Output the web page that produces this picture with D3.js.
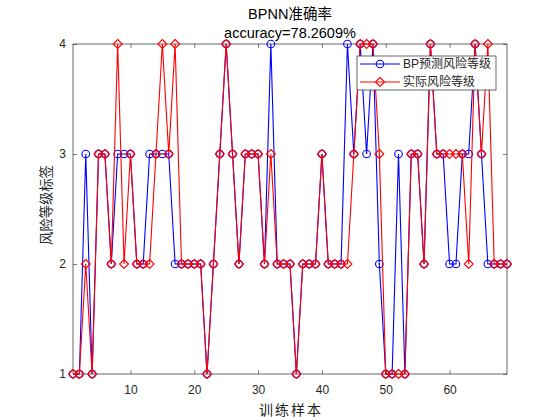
<!DOCTYPE html>
<html>
<head>
<meta charset="utf-8">
<script src="https://cdn.jsdelivr.net/npm/d3@7"></script>
<style>
  body { margin: 0; background: #fff; }
  text { font-family: "Liberation Sans", Arial, "Noto Sans CJK SC", sans-serif; }
</style>
</head>
<body>
<svg id="chart"></svg>
<script>
// Risk levels, one per training sample
const predicted = [1,1,3,1,3,3,2,3,3,3,2,2,3,3,3,3,2,2,2,2,2,1,2,3,4,3,2,3,3,3,2,4,2,2,2,1,2,2,2,3,
                   2,2,2,4,3,4,3,4,2,1,1,3,1,3,3,2,4,3,3,2,2,3,3,4,3,2,2,2,2];
const actual    = [1,1,2,1,3,3,2,4,2,3,2,2,2,3,4,3,4,2,2,2,2,1,2,3,4,3,2,3,3,3,2,3,2,2,2,1,2,2,2,3,
                   2,2,2,2,3,4,4,4,3,1,1,1,1,3,3,2,4,3,3,3,3,3,2,4,3,4,2,2,2];
const xTicks = [10, 20, 30, 40, 50, 60];
const yTicks = [1, 2, 3, 4];
const seriesNames = ["BP预测风险等级", "实际风险等级"];

const width = 560, height = 420;
const margin = {top: 44, bottom: 46, left: 73, right: 53};
const axisColor = "#262626";
const blue = "#0000ff", red = "#ff0000";

const svg = d3.select("#chart")
  .attr("width", width)
  .attr("height", height)
  .style("background", "#fff");

const xScale = d3.scaleLinear()
  .domain([1, predicted.length])
  .range([margin.left, width - margin.right]);

const yScale = d3.scaleLinear()
  .domain([1, 4])
  .range([height - margin.bottom, margin.top]);

// Axes, with inward ticks on all four sides (MATLAB box style)
const tickLen = 4;
svg.append("g")
  .attr("transform", `translate(0,${height - margin.bottom})`)
  .call(d3.axisBottom(xScale).tickValues(xTicks).tickSizeInner(-tickLen).tickSizeOuter(0).tickPadding(11))
  .call(g => g.select(".domain").remove());
svg.append("g")
  .attr("transform", `translate(0,${margin.top})`)
  .call(d3.axisTop(xScale).tickValues(xTicks).tickSizeInner(-tickLen).tickSizeOuter(0).tickFormat(""))
  .call(g => g.select(".domain").remove());
svg.append("g")
  .attr("transform", `translate(${margin.left},0)`)
  .call(d3.axisLeft(yScale).tickValues(yTicks).tickFormat(d3.format("d"))
    .tickSizeInner(-tickLen).tickSizeOuter(0).tickPadding(7))
  .call(g => g.select(".domain").remove());
svg.append("g")
  .attr("transform", `translate(${width - margin.right},0)`)
  .call(d3.axisRight(yScale).tickValues(yTicks).tickSizeInner(-tickLen).tickSizeOuter(0).tickFormat(""))
  .call(g => g.select(".domain").remove());

svg.selectAll(".tick line").attr("stroke", axisColor).attr("stroke-width", 0.6);
svg.selectAll(".tick text").attr("fill", axisColor).style("font-size", "12px");

// plot box
svg.append("rect")
  .attr("x", margin.left)
  .attr("y", margin.top)
  .attr("width", width - margin.left - margin.right)
  .attr("height", height - margin.top - margin.bottom)
  .attr("fill", "none")
  .attr("stroke", axisColor)
  .attr("stroke-width", 0.7);

const line = d3.line()
  .x((d, i) => xScale(i + 1))
  .y(d => yScale(d));

const diamond = s => `M0,${-s}L${s},0L0,${s}L${-s},0Z`;

// Predicted series: blue line with circles
svg.append("path")
  .datum(predicted)
  .attr("d", line)
  .attr("fill", "none")
  .attr("stroke", blue)
  .attr("stroke-width", 1.1);

svg.selectAll(".pred")
  .data(predicted)
  .enter().append("circle")
  .attr("class", "pred")
  .attr("cx", (d, i) => xScale(i + 1))
  .attr("cy", d => yScale(d))
  .attr("r", 3.8)
  .attr("fill", "none")
  .attr("stroke", blue)
  .attr("stroke-width", 1.1);

// Actual series: red line with diamonds
svg.append("path")
  .datum(actual)
  .attr("d", line)
  .attr("fill", "none")
  .attr("stroke", red)
  .attr("stroke-width", 1.1);

svg.selectAll(".act")
  .data(actual)
  .enter().append("path")
  .attr("class", "act")
  .attr("transform", (d, i) => `translate(${xScale(i + 1)},${yScale(d)})`)
  .attr("d", diamond(4.5))
  .attr("fill", "none")
  .attr("stroke", red)
  .attr("stroke-width", 1.1);

// Titles and axis labels
const midX = (margin.left + width - margin.right) / 2;
svg.append("text")
  .attr("x", midX).attr("y", 19)
  .attr("text-anchor", "middle")
  .style("font-size", "14.5px")
  .attr("fill", "#000")
  .text("BPNN准确率");
svg.append("text")
  .attr("x", midX).attr("y", 38)
  .attr("text-anchor", "middle")
  .style("font-size", "14.5px")
  .attr("fill", "#000")
  .text("accuracy=78.2609%");

svg.append("text")
  .attr("x", midX + 1).attr("y", 415)
  .attr("text-anchor", "middle")
  .style("font-size", "14px")
  .style("letter-spacing", "2px")
  .attr("fill", axisColor)
  .text("训练样本");

svg.append("text")
  .attr("transform", `translate(51,205) rotate(-90)`)
  .attr("text-anchor", "middle")
  .style("font-size", "13.3px")
  .attr("fill", axisColor)
  .text("风险等级标签");

// Legend
const legend = svg.append("g").attr("transform", "translate(357,56)");
legend.append("rect")
  .attr("width", 139).attr("height", 34)
  .attr("fill", "#fff")
  .attr("stroke", axisColor)
  .attr("stroke-width", 0.7);

const entries = legend.selectAll(".legend")
  .data(seriesNames)
  .enter().append("g")
  .attr("class", "legend")
  .attr("transform", (d, i) => `translate(0,${8 + i * 18})`);

entries.append("line")
  .attr("x1", 3).attr("x2", 43)
  .attr("stroke", (d, i) => i === 0 ? blue : red)
  .attr("stroke-width", 1.1);

entries.filter((d, i) => i === 0).append("circle")
  .attr("cx", 23).attr("r", 3.8)
  .attr("fill", "none").attr("stroke", blue).attr("stroke-width", 1.1);

entries.filter((d, i) => i === 1).append("path")
  .attr("transform", "translate(23,0)")
  .attr("d", diamond(4.5))
  .attr("fill", "none").attr("stroke", red).attr("stroke-width", 1.1);

entries.append("text")
  .attr("x", 46)
  .attr("dy", "0.35em")
  .style("font-size", "12px")
  .attr("fill", axisColor)
  .text(d => d);
</script>
</body>
</html>
